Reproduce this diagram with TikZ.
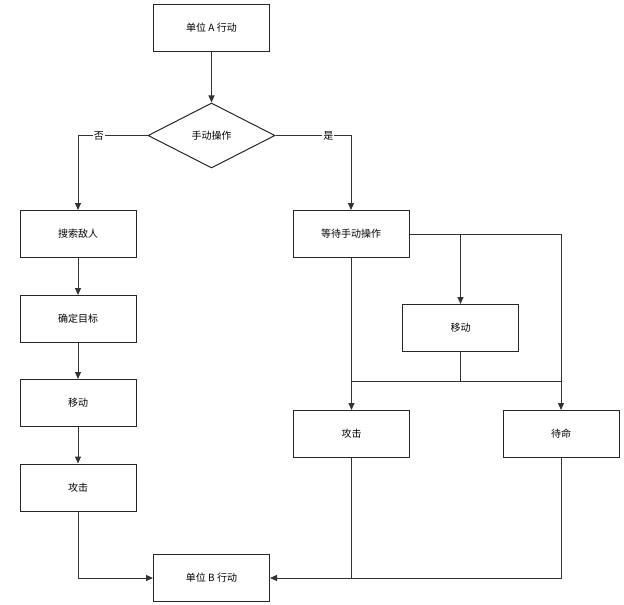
\documentclass[tikz,border=0pt]{standalone}
\usepackage{fontspec}
\setmainfont{Noto Sans CJK SC}
\usetikzlibrary{shapes.geometric,arrows.meta}
\begin{document}
\begin{tikzpicture}[x=1pt,y=-1pt,
  box/.style={draw=black!85,line width=1pt,minimum width=116pt,minimum height=47pt,font=\fontsize{10}{12}\selectfont,inner sep=0},
  dia/.style={draw=black!85,line width=1pt,diamond,aspect=1.95,minimum width=127pt,minimum height=65pt,inner sep=0,font=\fontsize{10}{12}\selectfont},
  ln/.style={draw=black!80,line width=1pt},
  ar/.style={ln,-{Triangle[length=7pt,width=6pt]}},
  lab/.style={font=\fontsize{10}{12}\selectfont,fill=white,inner sep=1pt}]
\useasboundingbox (0,0) rectangle (624,605);
\node[box] (a) at (211.5,28) {单位 A 行动};
\node[dia] (d) at (211.5,135.5) {手动操作};
\node[box] (s1) at (78,234) {搜索敌人};
\node[box] (s2) at (78,319) {确定目标};
\node[box] (s3) at (78,403) {移动};
\node[box] (s4) at (78,487.5) {攻击};
\node[box] (b) at (211.5,578) {单位 B 行动};
\node[box] (w) at (351,234) {等待手动操作};
\node[box] (m) at (460.5,328) {移动};
\node[box] (k) at (351.5,434) {攻击};
\node[box] (dm) at (561,434) {待命};
\coordinate (j) at (460.5,381);
\coordinate (jl) at (351.5,381);
\coordinate (jr) at (561,381);
\draw[ar] (a) -- (d);
\draw[ar] (d.west) -| node[lab,pos=0.35]{否} (s1.north);
\draw[ar] (d.east) -| node[lab,pos=0.35]{是} (w.north);
\draw[ar] (s1) -- (s2);
\draw[ar] (s2) -- (s3);
\draw[ar] (s3) -- (s4);
\draw[ar] (s4.south) |- (b.west);
\draw[ar] (w.east) -| (m.north);
\draw[ar] (w.east) -| (dm.north);
\draw[ar] (w.south -| k.north) -- (k.north);
\draw[ln] (m.south) -- (j);
\draw[ln] (jl) -- (jr);
\draw[ar] (dm.south) |- (b.east);
\draw[ln] (k.south) -- (k.south |- b.east);
\end{tikzpicture}
\end{document}
